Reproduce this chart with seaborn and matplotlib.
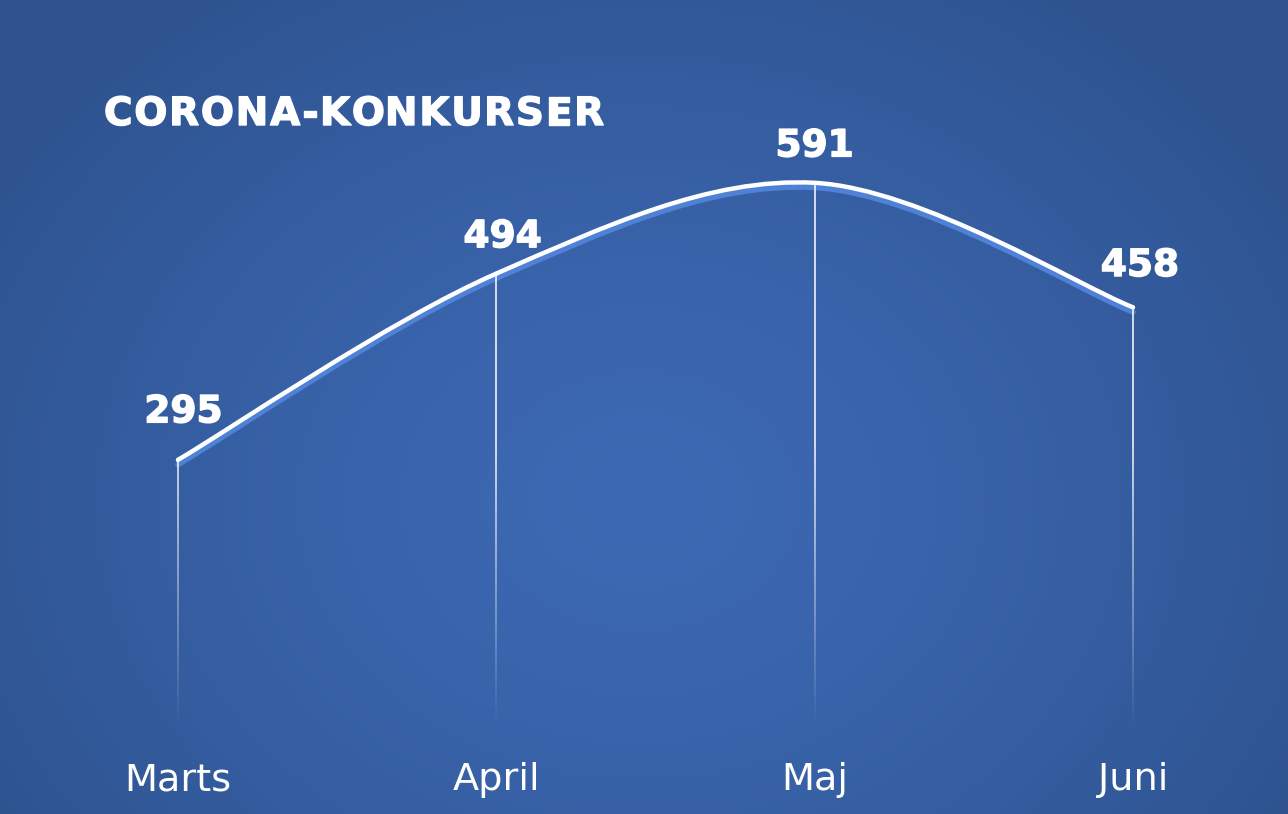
import numpy as np
import seaborn as sns
import matplotlib.pyplot as plt
import matplotlib.patheffects as pe
from matplotlib.path import Path
from matplotlib.patches import PathPatch
from matplotlib.collections import LineCollection
from matplotlib.font_manager import FontProperties

months = ['Marts', 'April', 'Maj', 'Juni']
values = [295, 494, 591, 458]
title = 'CORONA-KONKURSER'

sns.set_theme(style='white')
plt.rcParams['font.family'] = ['DejaVu Sans']

W, H = 1288, 814
fig = plt.figure(figsize=(W / 100, H / 100), dpi=100)

# radial gradient background
bg = fig.add_axes([0, 0, 1, 1])
yy, xx = np.mgrid[0:H, 0:W]
r = np.sqrt(((xx - 640) / 760) ** 2 + ((yy - 500) / 620) ** 2)
r = np.clip(r, 0, 1)
c0 = np.array([0x3d, 0x69, 0xb4]) / 255
c1 = np.array([0x2e, 0x53, 0x8f]) / 255
img = c0[None, None, :] * (1 - r[..., None] ** 1.4) + c1[None, None, :] * r[..., None] ** 1.4
bg.imshow(img, aspect='auto', extent=[0, W, H, 0])
bg.set_axis_off()

ax = fig.add_axes([0, 78 / H, 1, 736 / H])
ax.patch.set_alpha(0)
x = np.arange(len(values))
y = np.array(values, dtype=float)

# smooth curve (Catmull-Rom style bezier through the data points)
verts = [(x[0], y[0])]
codes = [Path.MOVETO]
for i in range(len(x) - 1):
    p0 = (x[max(i - 1, 0)], y[max(i - 1, 0)])
    p1 = (x[i], y[i])
    p2 = (x[i + 1], y[i + 1])
    p3 = (x[min(i + 2, len(x) - 1)], y[min(i + 2, len(x) - 1)])
    c1p = (p1[0] + (p2[0] - p0[0]) / 6, p1[1] + (p2[1] - p0[1]) / 6)
    c2p = (p2[0] - (p3[0] - p1[0]) / 6, p2[1] - (p3[1] - p1[1]) / 6)
    verts += [c1p, c2p, p2]
    codes += [Path.CURVE4] * 3

shadow = PathPatch(Path([(vx, vy - 5) for vx, vy in verts], codes),
                   fill=False, edgecolor='#4f82d6', lw=4, capstyle='round', zorder=2)
ax.add_patch(shadow)
curve = PathPatch(Path(verts, codes), fill=False, edgecolor='white', lw=3.2,
                  capstyle='round', zorder=4)
ax.add_patch(curve)

# fading vertical drop lines
for xi, yi in zip(x, y):
    ys = np.linspace(yi, 10, 120)
    segs = [[(xi, ys[k]), (xi, ys[k + 1])] for k in range(len(ys) - 1)]
    mid = (ys[:-1] + ys[1:]) / 2
    alpha = np.clip((mid - 10) / 305, 0, 1)
    cols = [(1, 1, 1, a) for a in alpha]
    ax.add_collection(LineCollection(segs, colors=cols, linewidths=1.1, zorder=3))

sns.scatterplot(x=x, y=y, s=8, color='white', edgecolor='none', ax=ax, zorder=5)

heavy = [pe.withStroke(linewidth=1.0, foreground='white')]

# label offsets in points (dx, dy)
offsets = [(4, 27), (4.5, 19), (0, 19), (5, 22.5)]
for xi, yi, (dx, dy) in zip(x, y, offsets):
    ax.annotate(f'{int(yi)}', (xi, yi), xytext=(dx, dy), textcoords='offset points',
                ha='center', va='baseline', fontsize=27, fontweight='bold', color='white',
                path_effects=heavy)

ax.set_xlim(-0.559, 3.487)
ax.set_ylim(0, 786.3)
ax.set_xticks(x)
ax.set_xticklabels(months, fontsize=27.5, color='white')
ax.tick_params(axis='x', length=0, pad=19)
ax.set_yticks([])
for s in ax.spines.values():
    s.set_visible(False)

# title with a little letter spacing
renderer = fig.canvas.get_renderer()
fp = FontProperties(family='DejaVu Sans', weight='bold', size=28)
spacing = 1.8
x0 = 104
for i, ch in enumerate(title):
    w_prefix = renderer.get_text_width_height_descent(title[:i], fp, ismath=False)[0] if i else 0
    fig.text((x0 + w_prefix + i * spacing) / W, 1 - 125 / H, ch, fontproperties=fp,
             color='white', ha='left', va='baseline', path_effects=heavy)

fig.savefig('out.png', dpi=100)
